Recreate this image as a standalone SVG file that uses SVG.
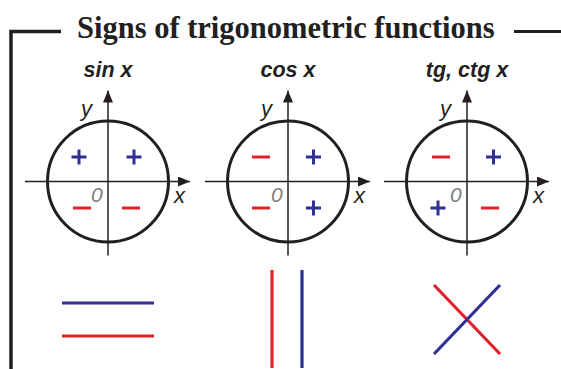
<svg xmlns="http://www.w3.org/2000/svg" width="561" height="369" viewBox="0 0 561 369">
<style>
.title{font-family:"Liberation Serif","Times New Roman",serif;font-weight:bold;font-size:30.5px;fill:#231f20}
.lbl{font-family:"Liberation Sans",Arial,sans-serif;font-weight:bold;font-style:italic;font-size:21.5px;fill:#231f20;text-anchor:middle}
.ax{font-family:"Liberation Sans",Arial,sans-serif;font-style:italic;font-size:22px;fill:#231f20}
.o{font-family:"Liberation Sans",Arial,sans-serif;font-style:italic;font-size:21px;fill:#808080}
.frame{stroke:#231f20;fill:none}
.circ{fill:none;stroke:#231f20;stroke-width:3}
.axis{stroke:#231f20;stroke-width:1.5;fill:none}
.plus{stroke:#2e3192;stroke-width:3;fill:none}
.minus{stroke:#e0202a;stroke-width:3;fill:none}
.blue{stroke:#2e3192;stroke-width:3.2;fill:none}
.red{stroke:#e0202a;stroke-width:3.2;fill:none}
</style>
<defs>
<marker id="arr" viewBox="0 0 12 10" refX="12" refY="5" markerWidth="12" markerHeight="10" markerUnits="userSpaceOnUse" orient="auto">
<path d="M0,0 L12,5 L0,10 Z" fill="#231f20"/>
</marker>
<g id="axes">
<line class="axis" x1="-83" y1="0" x2="82" y2="0" marker-end="url(#arr)"/>
<line class="axis" x1="0" y1="74" x2="0" y2="-91" marker-end="url(#arr)"/>
<circle class="circ" cx="0" cy="0" r="60.5"/>
<text class="ax" x="-27" y="-66">y</text>
<text class="ax" x="66" y="21">x</text>
<text class="o" x="-17" y="20">0</text>
</g>
</defs>
<g id="frame">
<path class="frame" d="M11,369 V31.5 H61" stroke-width="3.5"/>
<line class="frame" x1="514" y1="31.5" x2="561" y2="31.5" stroke-width="3"/>
<text class="title" x="77" y="38">Signs of trigonometric functions</text>
</g>
<g id="sin">
<text class="lbl" x="108" y="77">sin x</text>
<use href="#axes" x="108" y="181.5"/>
<path class="plus" d="M71.5,157 h15 M79,149.5 v15 M126.5,157 h15 M134,149.5 v15"/>
<path class="minus" d="M73,208 h18 M122,208 h18"/>
</g>
<g id="cos">
<text class="lbl" x="288" y="77">cos x</text>
<use href="#axes" x="288" y="181.5"/>
<path class="minus" d="M252,157 h18 M252,208 h18"/>
<path class="plus" d="M306,157 h15 M313.5,149.5 v15 M306,208 h15 M313.5,200.5 v15"/>
</g>
<g id="tg">
<text class="lbl" x="467" y="77">tg, ctg x</text>
<use href="#axes" x="467" y="181.5"/>
<path class="minus" d="M432,157 h18 M481,208 h18"/>
<path class="plus" d="M486,157 h15 M493.5,149.5 v15 M430.5,208 h15 M438,200.5 v15"/>
</g>
<g id="lines">
<line class="blue" x1="62" y1="303" x2="154" y2="303"/>
<line class="red" x1="62" y1="336" x2="154" y2="336"/>
<line class="red" x1="272" y1="270" x2="272" y2="368"/>
<line class="blue" x1="302" y1="270" x2="302" y2="368"/>
<line class="red" x1="434" y1="285" x2="500" y2="354"/>
<line class="blue" x1="500" y1="285" x2="434" y2="354"/>
</g>
</svg>
